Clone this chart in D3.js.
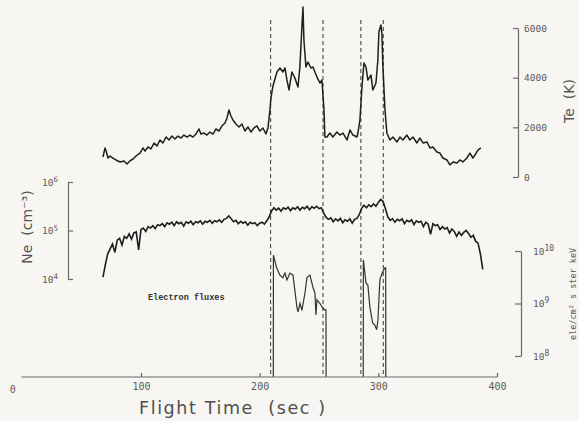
<!DOCTYPE html>
<html><head><meta charset="utf-8">
<script src="https://cdn.jsdelivr.net/npm/d3@7"></script>
<style>
html,body{margin:0;padding:0;background:#f7f6f2;}
svg{display:block;}
</style></head>
<body>
<svg id="c" width="579" height="421"></svg>
<script>
// ---------- DATA ----------
const xTicks = [0, 100, 200, 300, 400];
const teTicks = [0, 2000, 4000, 6000];
const neTicks = [4, 5, 6];          // exponents of 10
const fluxTicks = [8, 9, 10];       // exponents of 10
const boundaryTimes = [209.2, 253.4, 285.3, 304.2];

// Electron temperature (K) vs flight time (s)
const teTime = [68.0,69.7,70.9,72.2,73.9,76.4,78.9,82.3,85.7,88.2,90.7,93.3,95.8,99.2,101.7,103.4,105.9,108.4,111.0,113.5,116.0,118.5,121.1,123.6,126.1,128.6,131.2,133.7,136.2,138.7,141.3,143.8,146.3,148.9,150.5,153.1,155.6,158.1,160.7,163.2,165.7,168.2,170.8,172.5,174.1,175.8,177.5,180.0,182.6,185.1,187.6,190.1,192.7,195.2,197.7,200.2,202.8,205.3,207.0,208.7,209.5,211.2,214.6,217.1,219.6,221.3,223.0,224.7,227.2,229.7,232.3,233.9,235.6,236.5,237.3,239.0,240.7,243.2,244.9,248.3,250.8,252.5,254.2,255.0,256.7,259.2,261.7,265.1,267.6,270.2,273.6,276.1,278.6,282.0,282.8,284.5,286.2,287.9,289.6,291.2,293.8,295.4,298.0,299.6,300.5,302.2,303.0,303.9,305.6,307.2,309.8,312.3,315.7,318.2,320.7,324.1,326.6,329.2,332.5,335.1,337.6,341.0,343.5,346.0,349.4,351.9,354.4,357.8,360.3,362.9,366.2,368.7,371.3,374.6,377.2,379.7,381.4,383.9,386.4];
const teVal = [805,1170,1005,765,845,765,685,605,645,525,645,725,845,965,1170,1045,1210,1130,1370,1250,1490,1370,1610,1490,1650,1530,1650,1570,1690,1610,1690,1610,1730,1935,1730,1770,1690,1810,1730,1935,1850,2055,2175,2375,2700,2455,2295,2135,2015,2135,1850,2015,1810,1975,2055,1850,1975,1730,1975,2700,3180,3665,4230,4390,4230,4390,3905,3505,4230,3985,3625,4430,6040,6845,5515,4430,4630,4390,4430,4025,3785,3905,2700,1610,1610,1770,1610,1810,1690,1770,1490,1895,1690,1610,1770,2295,3625,4590,4430,3905,4105,3505,3785,4710,5840,6120,5800,4430,2700,1770,1490,1610,1410,1610,1490,1690,1490,1610,1370,1570,1370,1410,1170,1210,1005,965,765,685,485,605,565,685,605,765,965,765,885,1085,1170];

// Electron density: log10(Ne / cm^-3) sampled every 2 s from 68 s
const neStart = 68, neStep = 2;
const neLog10 = [4.04,4.30,4.52,4.62,4.72,4.55,4.80,4.84,4.70,4.88,4.84,4.93,4.82,4.95,4.97,4.60,5.02,5.05,4.98,5.08,5.05,5.10,5.04,5.12,5.10,5.14,5.08,5.16,5.13,5.17,5.10,5.18,5.14,5.17,5.09,5.18,5.15,5.19,5.12,5.18,5.16,5.20,5.13,5.19,5.17,5.21,5.15,5.20,5.18,5.22,5.17,5.23,5.25,5.30,5.24,5.18,5.21,5.14,5.19,5.15,5.18,5.11,5.17,5.14,5.16,5.10,5.15,5.17,5.13,5.20,5.28,5.40,5.47,5.42,5.46,5.40,5.47,5.44,5.48,5.41,5.47,5.44,5.49,5.42,5.48,5.45,5.50,5.43,5.49,5.46,5.50,5.45,5.47,5.36,5.27,5.23,5.26,5.18,5.24,5.20,5.25,5.16,5.22,5.19,5.24,5.15,5.23,5.25,5.33,5.46,5.52,5.47,5.53,5.49,5.55,5.50,5.58,5.64,5.60,5.45,5.28,5.21,5.24,5.17,5.23,5.20,5.24,5.14,5.21,5.18,5.22,5.12,5.20,5.17,5.19,5.08,5.17,5.13,4.92,5.14,5.10,5.12,5.02,5.08,5.03,5.06,4.95,5.03,4.98,4.88,4.97,4.90,4.96,5.00,4.94,4.86,4.90,4.78,4.74,4.52,4.20];

// Electron fluxes: log10(ele / cm2 s ster keV); 7.6 = no flux (baseline)
const flux1Time = [211.5,211.6,214.3,217.1,219.6,221.3,223.0,225.5,228.1,231.4,232.3,234.0,235.6,238.2,239.9,242.4,244.9,246.6,247.4,248.3,250.8,253.3,255.0,255.9,256.0];
const flux1Log = [7.6,9.92,9.68,9.54,9.49,9.58,9.45,9.58,9.54,8.93,8.84,9.0,8.87,9.2,9.5,9.54,9.31,9.2,8.78,9.07,9.0,8.91,8.88,8.88,7.6];
const flux2Time = [287.3,287.4,289.6,291.2,292.9,295.2,297.1,298.6,299.7,301.3,303.6,305.6,306.2,306.3];
const flux2Log = [7.6,9.83,9.39,9.35,8.93,8.63,8.59,8.5,8.69,9.45,9.6,9.68,9.68,7.6];

// ---------- DRAW ----------
const svg = d3.select("#c");
const axisCol = "#6a6a6a", lineCol = "#1e1e1e", textCol = "#5a5a5a";
const mono = "'DejaVu Sans Mono', 'Liberation Mono', monospace";

const x = d3.scaleLinear().domain([0, 400]).range([22.3, 497]);
const yTe = d3.scaleLinear().domain([0, 6000]).range([177, 28]);
const yNe = d3.scaleLog().domain([1e4, 1e6]).range([279, 182]);
const yFl = d3.scaleLog().domain([1e8, 1e10]).range([356, 251]);
const axisY = 377;

const teData = teTime.map((t, i) => ({t, v: teVal[i]}));
const neData = neLog10.map((v, i) => ({t: neStart + i * neStep, v: Math.pow(10, v)}));
const fl1 = flux1Time.map((t, i) => ({t, v: Math.pow(10, flux1Log[i])}));
const fl2 = flux2Time.map((t, i) => ({t, v: Math.pow(10, flux2Log[i])}));

// dashed boundary lines
svg.append("g").selectAll("line").data(boundaryTimes).join("line")
  .attr("x1", d => x(d)).attr("x2", d => x(d))
  .attr("y1", 20).attr("y2", axisY)
  .attr("stroke", "#555").attr("stroke-width", 1.2)
  .attr("stroke-dasharray", "4,3");

// Te line
svg.append("path").datum(teData)
  .attr("d", d3.line().x(d => x(d.t)).y(d => yTe(d.v)))
  .attr("fill", "none").attr("stroke", lineCol).attr("stroke-width", 1.5)
  .attr("stroke-linejoin", "round");

// Ne line
svg.append("path").datum(neData)
  .attr("d", d3.line().x(d => x(d.t)).y(d => yNe(d.v)))
  .attr("fill", "none").attr("stroke", lineCol).attr("stroke-width", 1.6);

// Flux lines
[fl1, fl2].forEach(dd => {
  svg.append("path").datum(dd)
    .attr("d", d3.line().x(d => x(d.t)).y(d => yFl(d.v)))
    .attr("fill", "none").attr("stroke", "#333").attr("stroke-width", 1.2);
});

function styleAxis(g) {
  g.selectAll("path.domain").attr("stroke", axisCol).attr("stroke-width", 1.2);
  g.selectAll(".tick line").attr("stroke", axisCol).attr("stroke-width", 1.2);
  g.selectAll("text").attr("fill", textCol).attr("font-family", mono).attr("font-size", 9.5);
}

// X axis
const gx = svg.append("g").attr("transform", `translate(0,${axisY})`)
  .call(d3.axisBottom(x).tickValues(xTicks).tickSizeInner(-4).tickSizeOuter(0).tickPadding(6).tickFormat(d3.format("d")));
styleAxis(gx);
gx.selectAll("path.domain").attr("d", `M${x(0) - 1},0H${x(400)}`);
gx.selectAll(".tick").filter(d => d === 0).select("line").remove();
gx.selectAll(".tick").filter(d => d === 0).select("text").attr("dx", -10).attr("dy", "0.95em");
gx.selectAll("text").attr("font-size", 10);

// Te axis (right)
const gte = svg.append("g").attr("transform", "translate(518,0)")
  .call(d3.axisRight(yTe).tickValues(teTicks).tickSizeInner(-5).tickSizeOuter(0).tickPadding(6).tickFormat(d3.format("d")));
styleAxis(gte);

// Ne axis (left)
const gne = svg.append("g").attr("transform", "translate(68,0)")
  .call(d3.axisLeft(yNe).tickValues(neTicks.map(e => Math.pow(10, e))).tickSizeInner(-5).tickSizeOuter(0).tickPadding(10).tickFormat(""));
styleAxis(gne);
gne.selectAll(".tick text").each(function(d) {
  const t = d3.select(this);
  t.append("tspan").text("10");
  t.append("tspan").attr("dy", "-0.45em").attr("font-size", 7.5).text(Math.round(Math.log10(d)));
});

// Flux axis (right)
const gfl = svg.append("g").attr("transform", "translate(521,0)")
  .call(d3.axisRight(yFl).tickValues(fluxTicks.map(e => Math.pow(10, e))).tickSizeInner(-6).tickSizeOuter(0).tickPadding(12).tickFormat(""));
styleAxis(gfl);
gfl.selectAll(".tick text").each(function(d) {
  const t = d3.select(this);
  t.append("tspan").text("10");
  t.append("tspan").attr("dy", "-0.45em").attr("font-size", 8).text(Math.round(Math.log10(d)));
});

// Titles
svg.append("text").attr("x", 139).attr("y", 414)
  .attr("font-family", "'DejaVu Sans', sans-serif").attr("font-size", 17.5)
  .attr("fill", "#4f4f4f").attr("xml:space", "preserve")
  .attr("textLength", 186).attr("lengthAdjust", "spacing")
  .text("Flight Time  (sec )");

svg.append("text").attr("transform", "translate(32,227) rotate(-90)")
  .attr("text-anchor", "middle").attr("font-family", "'DejaVu Sans', sans-serif")
  .attr("font-size", 14).attr("fill", "#555").attr("xml:space", "preserve")
  .text("Ne  (cm\u207B\u00B3)");

svg.append("text").attr("transform", "translate(574,101) rotate(-90)")
  .attr("text-anchor", "middle").attr("font-family", "'DejaVu Sans', sans-serif")
  .attr("font-size", 14).attr("fill", "#555").attr("xml:space", "preserve")
  .text("Te  (K)");

svg.append("text").attr("transform", "translate(576,340) rotate(-90)")
  .attr("text-anchor", "start").attr("font-family", mono)
  .attr("font-size", 8.5).attr("fill", "#555")
  .text("ele/cm\u00B2 s ster keV");

svg.append("text").attr("x", 148).attr("y", 300)
  .attr("font-family", "'Liberation Mono', monospace").attr("font-weight", "bold")
  .attr("font-size", 8.5).attr("fill", "#333")
  .text("Electron fluxes");
</script>
</body></html>
